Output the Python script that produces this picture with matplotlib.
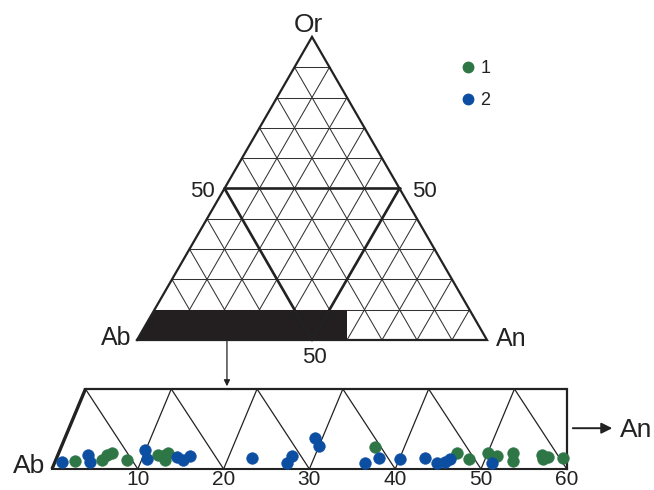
import numpy as np
import matplotlib
matplotlib.use("Agg")
import matplotlib.pyplot as plt
from matplotlib.lines import Line2D

plt.rcParams['font.family'] = ['Liberation Sans', 'DejaVu Sans']

# feldspar compositions in the Ab-An strip (An %, Or %)
an_1 = [2.3, 5.4, 5.7, 6.2, 8.3, 11.7, 12.5, 12.7, 12.7, 36.6, 46.4, 48.1,
        50.0, 51.2, 53.0, 53.3, 56.4, 56.7, 57.2, 59.0]
or_1 = [1.0, 1.1, 1.75, 2.0, 1.1, 1.75, 1.75, 2.0, 1.1, 2.75, 2.0, 1.25,
        2.0, 1.6, 2.0, 1.0, 1.75, 1.25, 1.5, 1.4]
an_2 = [0.8, 3.5, 4.1, 9.9, 10.6, 14.0, 14.8, 15.5, 22.8, 27.1, 27.3, 29.1,
        30.0, 36.2, 37.6, 40.1, 42.9, 44.6, 45.5, 45.9, 51.0]
or_2 = [0.9, 1.75, 0.9, 2.4, 1.25, 1.5, 1.1, 1.6, 1.4, 0.75, 1.6, 3.9,
        2.9, 0.75, 1.4, 1.25, 1.4, 0.75, 0.9, 1.25, 0.75]
strip_ticks = [10, 20, 30, 40, 50, 60]

GREEN = '#2e7646'
BLUE = '#0b4ea2'
INK = '#222222'
S3 = np.sqrt(3) / 2


def tern(an, orr):
    an = np.asarray(an, float)
    orr = np.asarray(orr, float)
    return an + orr / 2, orr * S3


SHEAR = 0.39


def strip(an, orr):
    an = np.asarray(an, float)
    orr = np.asarray(orr, float)
    return an + SHEAR * orr, orr


fig = plt.figure(figsize=(6.54, 4.90), dpi=100)

# ---- ternary triangle ----
ax = fig.add_axes([0, 0, 1, 1])
ax.set_xlim(-137 / 3.5, (654 - 137) / 3.5)
ax.set_ylim(-150 / 3.5, 340 / 3.5)
ax.axis('off')

gk = dict(color='#333333', lw=0.75, zorder=1)
for v in range(10, 100, 10):
    # constant Or
    x, y = tern([0, 100 - v], [v, v])
    ax.plot(x, y, **gk)
    # constant An
    x, y = tern([v, v], [0, 100 - v])
    ax.plot(x, y, **gk)
    # constant Ab
    x, y = tern([v, 0], [0, v])
    ax.plot(x, y, **gk)

# Ab-rich band, Or < 10, An < 60
x, y = tern([0, 60, 55, 0], [0, 0, 10, 10])
ax.fill(x, y, color='#231f20', lw=0, zorder=2)

# 50 % lines
for a, b in [((0, 50), (50, 50)), ((50, 0), (50, 50)), ((0, 50), (50, 0))]:
    x, y = tern([a[0], b[0]], [a[1], b[1]])
    ax.plot(x, y, color=INK, lw=1.9, zorder=3, solid_capstyle='round')

x, y = tern([0, 100, 0, 0], [0, 0, 100, 0])
ax.plot(x, y, color=INK, lw=1.6, zorder=4, solid_joinstyle='miter')

ax.text(49.1, 90.0, 'Or', fontsize=19, ha='center', va='center', color=INK)
ax.text(-1.5, -1.4, 'Ab', fontsize=18, ha='right', va='baseline', color=INK)
ax.text(102.6, -1.7, 'An', fontsize=18, ha='left', va='baseline', color=INK)
ax.text(22.1, 40.9, '50', fontsize=16, ha='right', va='baseline', color=INK)
ax.text(78.6, 40.9, '50', fontsize=16, ha='left', va='baseline', color=INK)
ax.text(50.6, -6.6, '50', fontsize=16, ha='center', va='baseline', color=INK)

ax.annotate('', xy=(25.7, -13.2), xytext=(25.7, 0),
            arrowprops=dict(arrowstyle='-|>', color=INK, lw=0.9,
                            mutation_scale=9, shrinkA=0, shrinkB=0))

# ---- enlarged strip ----
bx = fig.add_axes([0, 0, 1, 1])
bx.patch.set_alpha(0)
bx.set_xlim(-52 / 8.58, (654 - 52) / 8.58)
bx.set_ylim(-21 / 8, 469 / 8)
bx.axis('off')

lk = dict(color=INK, lw=0.9, zorder=1)
for m in range(0, 6):
    xa, ya = strip([10 * m], [10])
    xl, yl = strip([10 * m], [0])
    xr, yr = strip([10 * m + 10], [0])
    if m > 0:
        bx.plot([xl[0], xa[0]], [yl[0], ya[0]], **lk)
    bx.plot([xa[0], xr[0]], [ya[0], yr[0]], **lk)

x, y = strip([0, 60, 60 - SHEAR * 10, 0], [0, 0, 10, 10])
bx.plot([x[0], x[1]], [y[0], y[1]], color=INK, lw=1.5, zorder=2)
bx.plot([x[1], x[2], x[3]], [y[1], y[2], y[3]], color=INK, lw=1.6,
        zorder=2, solid_joinstyle='miter')
bx.plot([x[3], x[0]], [y[3], y[0]], color=INK, lw=2.4, zorder=2,
        solid_capstyle='butt')

x, y = strip(an_1, or_1)
bx.plot(x, y, 'o', color=GREEN, ms=8.5, mec=GREEN, mew=0.3, zorder=5)
x, y = strip(an_2, or_2)
bx.plot(x, y, 'o', color=BLUE, ms=8.5, mec=BLUE, mew=0.3, zorder=5)

for t in strip_ticks:
    bx.text(t, -2.0, str(t), fontsize=15, ha='center', va='baseline', color=INK)
bx.text(-0.8, -0.55, 'Ab', fontsize=19, ha='right', va='baseline', color=INK)
bx.annotate('', xy=(65.3, 5.1), xytext=(60.7, 5.1),
            arrowprops=dict(arrowstyle='-|>', color=INK, lw=1.4,
                            mutation_scale=16, shrinkA=0, shrinkB=0))
bx.text(66.2, 4.05, 'An', fontsize=19, ha='left', va='baseline', color=INK)

handles = [Line2D([], [], ls='', marker='o', color=GREEN, ms=7.5),
           Line2D([], [], ls='', marker='o', color=BLUE, ms=7.5)]
fig.legend(handles, ['1', '2'], loc='upper left', bbox_to_anchor=(0.6905, 0.895),
           frameon=False, fontsize=13, handlelength=0.8, handletextpad=0.3,
           labelspacing=0.8, borderpad=0, labelcolor=INK)

fig.savefig('out.png', dpi=100)
